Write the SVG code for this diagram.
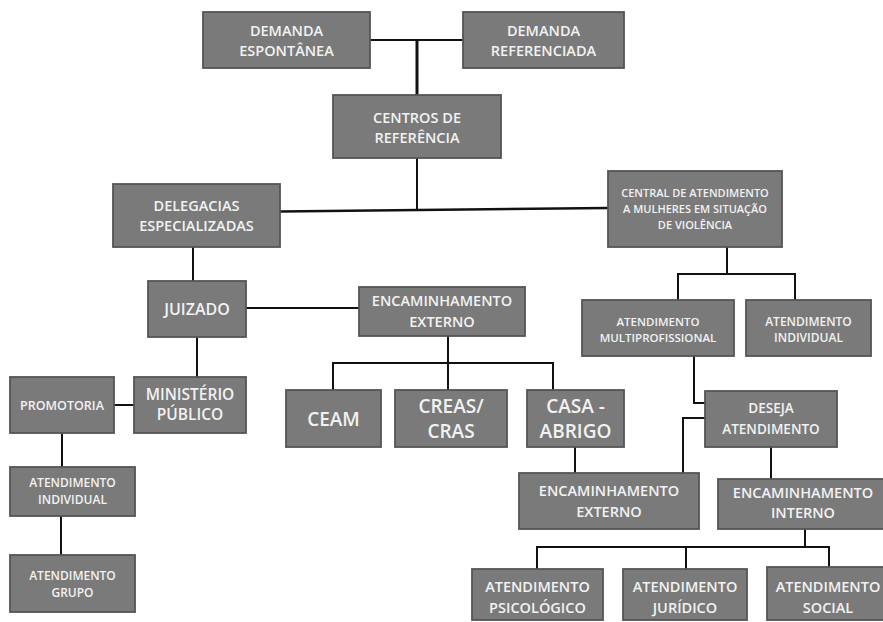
<svg xmlns="http://www.w3.org/2000/svg" width="883" height="622" viewBox="0 0 883 622">
<defs>
<style>
.b{fill:#7a7a7a;stroke:#555555;stroke-width:1.8}
.t{fill:#f2f2f2;font-family:"Open Sans","Liberation Sans",sans-serif;font-weight:600;text-anchor:middle}
.c{fill:none;stroke:#111;stroke-width:2}
</style>
</defs>
<rect width="883" height="622" fill="#ffffff"/>
<g id="connectors">
<path class="c" d="M370,40 H463"/>
<path class="c" d="M417,40 V95" style="stroke-width:3"/>
<path class="c" d="M417,158 V210"/>
<path class="c" d="M280,211.5 L608,208" style="stroke-width:2.5"/>
<path class="c" d="M193,247 V281"/>
<path class="c" d="M246,308 H359"/>
<path class="c" d="M197,337 V377"/>
<path class="c" d="M114,405 H134"/>
<path class="c" d="M62,433 V467"/>
<path class="c" d="M61,516 V555"/>
<path class="c" d="M727,247 V274 M678,300 V274 H795 V300"/>
<path class="c" d="M448,336 V390 M333,390 V363 H553 V390"/>
<path class="c" d="M694,356 V403 H705"/>
<path class="c" d="M705,418 H683 V473"/>
<path class="c" d="M575,447 V473"/>
<path class="c" d="M771,447 V479"/>
<path class="c" d="M805,529 V547 M537,569 V547 H829 V567 M686,547 V569"/>
</g>
<g id="demanda-espontanea"><rect class="b" x="203" y="12" width="167" height="56"/><text class="t" font-size="14.5" x="286.5" y="35.5">DEMANDA</text><text class="t" font-size="14.5" x="286.5" y="55.5">ESPONTÂNEA</text></g>
<g id="demanda-referenciada"><rect class="b" x="463" y="12" width="161" height="56"/><text class="t" font-size="14.5" x="543.5" y="35.5">DEMANDA</text><text class="t" font-size="14.5" x="543.5" y="55.5">REFERENCIADA</text></g>
<g id="centros-referencia"><rect class="b" x="333" y="95" width="168" height="63"/><text class="t" font-size="14.5" x="417" y="123">CENTROS DE</text><text class="t" font-size="14.5" x="417" y="143">REFERÊNCIA</text></g>
<g id="delegacias"><rect class="b" x="113" y="184" width="167" height="63"/><text class="t" font-size="14.5" x="196.5" y="211">DELEGACIAS</text><text class="t" font-size="14.5" x="196.5" y="231">ESPECIALIZADAS</text></g>
<g id="central-atendimento"><rect class="b" x="608" y="171" width="174" height="76"/><text class="t" font-size="11" x="695" y="197">CENTRAL DE ATENDIMENTO</text><text class="t" font-size="11" x="695" y="213">A MULHERES EM SITUAÇÃO</text><text class="t" font-size="11" x="695" y="229">DE VIOLÊNCIA</text></g>
<g id="atendimento-multiprofissional"><rect class="b" x="582" y="300" width="152" height="56"/><text class="t" font-size="11.5" x="658" y="326">ATENDIMENTO</text><text class="t" font-size="11.5" x="658" y="342">MULTIPROFISSIONAL</text></g>
<g id="atendimento-individual-direita"><rect class="b" x="746" y="300" width="125" height="56"/><text class="t" font-size="12" x="808.5" y="326">ATENDIMENTO</text><text class="t" font-size="12" x="808.5" y="342">INDIVIDUAL</text></g>
<g id="juizado"><rect class="b" x="148" y="281" width="98" height="56"/><text class="t" font-size="16" x="197" y="315">JUIZADO</text></g>
<g id="ministerio-publico"><rect class="b" x="134" y="377" width="112" height="56"/><text class="t" font-size="15.5" x="190" y="400">MINISTÉRIO</text><text class="t" font-size="15.5" x="190" y="420">PÚBLICO</text></g>
<g id="promotoria"><rect class="b" x="10" y="377" width="104" height="56"/><text class="t" font-size="12.5" x="62" y="409.5">PROMOTORIA</text></g>
<g id="atendimento-individual-esquerda"><rect class="b" x="10" y="467" width="125" height="49"/><text class="t" font-size="12" x="72.5" y="487">ATENDIMENTO</text><text class="t" font-size="12" x="72.5" y="504">INDIVIDUAL</text></g>
<g id="atendimento-grupo"><rect class="b" x="10" y="555" width="125" height="57"/><text class="t" font-size="12" x="72.5" y="580">ATENDIMENTO</text><text class="t" font-size="12" x="72.5" y="597">GRUPO</text></g>
<g id="encaminhamento-externo-1"><rect class="b" x="359" y="287" width="166" height="49"/><text class="t" font-size="14.5" x="442" y="306">ENCAMINHAMENTO</text><text class="t" font-size="14.5" x="442" y="326.5">EXTERNO</text></g>
<g id="ceam"><rect class="b" x="286" y="390" width="95" height="57"/><text class="t" font-size="19" x="333.5" y="426">CEAM</text></g>
<g id="creas-cras"><rect class="b" x="395" y="390" width="112" height="57"/><text class="t" font-size="19" x="451" y="413">CREAS/</text><text class="t" font-size="19" x="451" y="438">CRAS</text></g>
<g id="casa-abrigo"><rect class="b" x="527" y="390" width="97" height="57"/><text class="t" font-size="19" x="575.5" y="413">CASA -</text><text class="t" font-size="19" x="575.5" y="438">ABRIGO</text></g>
<g id="deseja-atendimento"><rect class="b" x="705" y="391" width="132" height="56"/><text class="t" font-size="13.5" x="771" y="413">DESEJA</text><text class="t" font-size="13.5" x="771" y="434">ATENDIMENTO</text></g>
<g id="encaminhamento-externo-2"><rect class="b" x="519" y="473" width="180" height="56"/><text class="t" font-size="14.5" x="609" y="496">ENCAMINHAMENTO</text><text class="t" font-size="14.5" x="609" y="517">EXTERNO</text></g>
<g id="encaminhamento-interno"><rect class="b" x="718" y="479" width="168" height="50"/><text class="t" font-size="14.5" x="803" y="498">ENCAMINHAMENTO</text><text class="t" font-size="14.5" x="803" y="518">INTERNO</text></g>
<g id="atendimento-psicologico"><rect class="b" x="472" y="569" width="131" height="51"/><text class="t" font-size="14.5" x="537.5" y="592">ATENDIMENTO</text><text class="t" font-size="14.5" x="537.5" y="613">PSICOLÓGICO</text></g>
<g id="atendimento-juridico"><rect class="b" x="623" y="569" width="124" height="51"/><text class="t" font-size="14.5" x="685" y="592">ATENDIMENTO</text><text class="t" font-size="14.5" x="685" y="613">JURÍDICO</text></g>
<g id="atendimento-social"><rect class="b" x="767" y="567" width="120" height="53"/><text class="t" font-size="14.5" x="828" y="592">ATENDIMENTO</text><text class="t" font-size="14.5" x="828" y="613">SOCIAL</text></g>
</svg>
